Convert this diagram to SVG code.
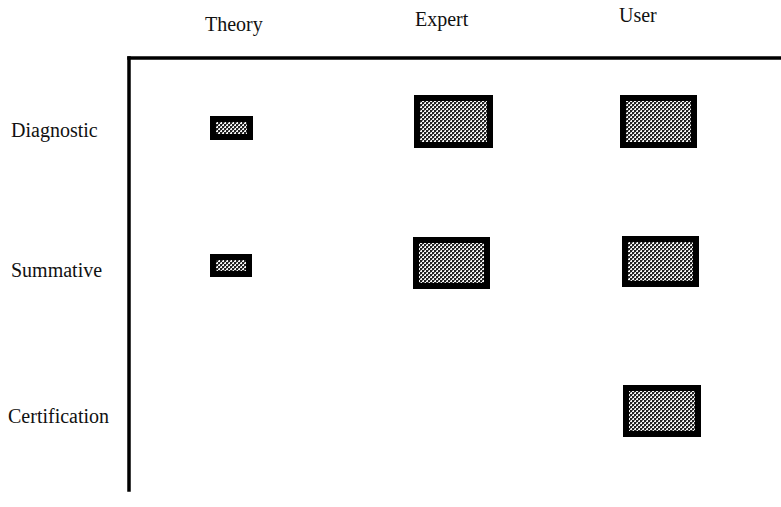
<svg xmlns="http://www.w3.org/2000/svg" width="781" height="507" viewBox="0 0 781 507">
  <defs>
    <!-- halftone screen used inside the cells -->
    <pattern id="screen" width="4" height="4" patternUnits="userSpaceOnUse">
      <rect width="4" height="4" fill="#f4f4f4"/>
      <rect x="0" y="0" width="2" height="2" fill="#222222"/>
      <rect x="2" y="2" width="2" height="2" fill="#222222"/>
      <rect x="2" y="0" width="1" height="1" fill="#777777"/>
      <rect x="0" y="2" width="1" height="1" fill="#777777"/>
    </pattern>
  </defs>
  <style>
    .lbl { font-family: "Liberation Serif", "Times New Roman", serif; font-size: 20px; fill: #111; }
    .axis { stroke: #000; stroke-width: 3.5; fill: none; stroke-linecap: square; }
    .cell { fill: url(#screen); stroke: #000; stroke-width: 6; }
  </style>
  <rect width="781" height="507" fill="#ffffff"/>

  <!-- column headings -->
  <g id="col-theory"><text class="lbl" x="205" y="31">Theory</text></g>
  <g id="col-expert"><text class="lbl" x="415" y="26">Expert</text></g>
  <g id="col-user"><text class="lbl" x="619" y="22">User</text></g>

  <!-- row headings -->
  <g id="row-diagnostic"><text class="lbl" x="11" y="137">Diagnostic</text></g>
  <g id="row-summative"><text class="lbl" x="11" y="277">Summative</text></g>
  <g id="row-certification"><text class="lbl" x="8" y="423">Certification</text></g>

  <!-- axes -->
  <g id="axes">
    <line class="axis" x1="129" y1="58" x2="781" y2="58"/>
    <line class="axis" x1="129" y1="58" x2="129" y2="490"/>
  </g>

  <!-- cells -->
  <g id="theory-diagnostic"><rect class="cell" x="213" y="119" width="37" height="18"/></g>
  <g id="theory-summative"><rect class="cell" x="213" y="257" width="36" height="17"/></g>
  <g id="expert-diagnostic"><rect class="cell" x="417" y="98" width="73" height="47"/></g>
  <g id="expert-summative"><rect class="cell" x="416" y="240" width="71" height="46"/></g>
  <g id="user-diagnostic"><rect class="cell" x="623" y="98" width="71" height="47"/></g>
  <g id="user-summative"><rect class="cell" x="625" y="239" width="71" height="45"/></g>
  <g id="user-certification"><rect class="cell" x="626" y="388" width="72" height="46"/></g>
</svg>
